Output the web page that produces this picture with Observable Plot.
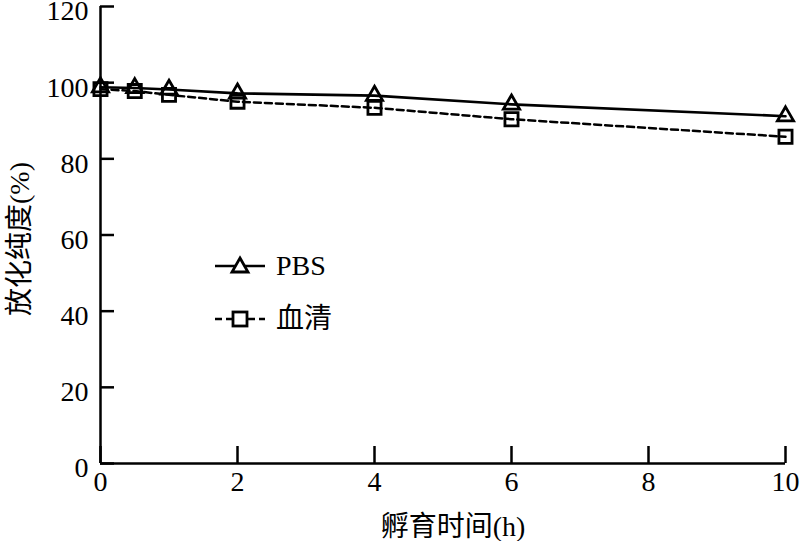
<!DOCTYPE html>
<html>
<head>
<meta charset="utf-8">
<script src="https://cdn.jsdelivr.net/npm/d3@7"></script>
<script src="https://cdn.jsdelivr.net/npm/@observablehq/plot@0.6"></script>
<style>
  html, body { margin: 0; padding: 0; background: #fff; }
  #wrap { position: relative; width: 805px; height: 541px; }
  .leg { position: absolute; font-family: "Liberation Serif", "Noto Sans CJK SC", serif; font-size: 28px; color: #000; display: flex; align-items: center; line-height: 32px; }
  .leg svg { margin-right: 10px; }
</style>
</head>
<body>
<div id="wrap"></div>
<script>
const times = [0, 0.5, 1, 2, 4, 6, 10];
const pbs = [98.8, 98.6, 98.2, 97.2, 96.6, 94.3, 91.2];
const serum = [98.3, 97.8, 96.8, 95.0, 93.4, 90.4, 85.8];
const seriesNames = ["PBS", "血清"];
const xTicks = [0, 2, 4, 6, 8, 10];
const yTicks = [0, 20, 40, 60, 80, 100, 120];

const pbsData = times.map((t, i) => ({t, v: pbs[i]}));
const serumData = times.map((t, i) => ({t, v: serum[i]}));

const font = '"Liberation Serif", "Noto Sans CJK SC", serif';

const chart = Plot.plot({
  width: 805,
  height: 541,
  marginLeft: 100,
  marginRight: 20,
  marginTop: 6,
  marginBottom: 78,
  style: {fontFamily: font, fontSize: "28px", color: "#000", background: "#fff"},
  x: {domain: [0, 10]},
  y: {domain: [0, 120]},
  marks: [
    Plot.axisX({ticks: xTicks, tickSize: -17, tickPadding: 25, strokeWidth: 2.5, label: null, fontSize: 28}),
    Plot.axisY({ticks: yTicks, tickSize: -14, tickFormat: () => "", strokeWidth: 2.5, label: null}),
    Plot.axisY({ticks: yTicks, tickSize: 0, tickPadding: 12, label: null, fontSize: 28, dy: 5}),
    Plot.text(["孵育时间(h)"], {frameAnchor: "bottom", dx: 10, dy: 72, fontSize: 28, fill: "#000", lineAnchor: "bottom"}),
    Plot.text(["放化纯度(%)"], {frameAnchor: "left", dx: -80, dy: 4, rotate: -90, textAnchor: "middle", fontSize: 28, fill: "#000"}),
    Plot.ruleX([0], {stroke: "#000", strokeWidth: 2.5, y1: 0, y2: 120}),
    Plot.ruleY([0], {stroke: "#000", strokeWidth: 2.5}),
    Plot.line(serumData, {x: "t", y: "v", stroke: "#000", strokeWidth: 2.5, strokeDasharray: "7,4"}),
    Plot.line(pbsData, {x: "t", y: "v", stroke: "#000", strokeWidth: 2.6}),
    Plot.dot(serumData, {x: "t", y: "v", symbol: "square", r: 7.4, stroke: "#000", strokeWidth: 2.8, fill: "none"}),
    Plot.dot(pbsData, {x: "t", y: "v", symbol: "triangle", r: 6, stroke: "#000", strokeWidth: 2.8, fill: "none"})
  ]
});

const wrap = document.getElementById("wrap");
wrap.appendChild(chart);

// legend overlay
const legendItems = [
  {name: seriesNames[0], top: 250, dash: null, sym: "tri"},
  {name: seriesNames[1], top: 303, dash: "7,4", sym: "sq"}
];
legendItems.forEach(it => {
  const div = document.createElement("div");
  div.className = "leg";
  div.style.left = "214px";
  div.style.top = it.top + "px";
  const symbol = it.sym === "tri"
    ? '<path d="M26,8 L34,22 L18,22 Z" fill="white" stroke="#000" stroke-width="2.8"/>'
    : '<rect x="19" y="9" width="14" height="14" fill="white" stroke="#000" stroke-width="2.8"/>';
  div.innerHTML = `<svg width="52" height="32"><line x1="1" x2="51" y1="16" y2="16" stroke="#000" stroke-width="2.6" ${it.dash ? `stroke-dasharray="${it.dash}"` : ""}/>${symbol}</svg><span>${it.name}</span>`;
  wrap.appendChild(div);
});
</script>
</body>
</html>
